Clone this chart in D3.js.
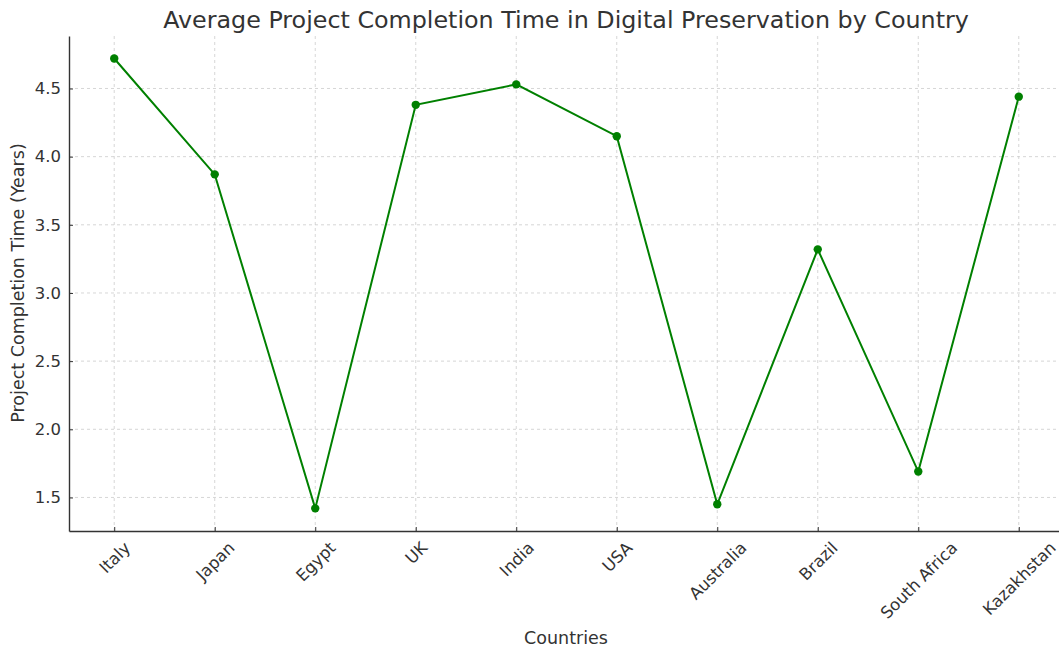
<!DOCTYPE html>
<html>
<head>
<meta charset="utf-8">
<script src="https://cdn.jsdelivr.net/npm/d3@7"></script>
<style>
  body { margin: 0; background: #fff; }
  svg text { font-family: "DejaVu Sans", sans-serif; }
  svg { display: block; }
</style>
</head>
<body>
<svg id="chart" width="1059" height="650"></svg>
<script>
// data
const countries = ["Italy", "Japan", "Egypt", "UK", "India", "USA", "Australia", "Brazil", "South Africa", "Kazakhstan"];
const completionYears = [4.72, 3.87, 1.42, 4.38, 4.53, 4.15, 1.45, 3.32, 1.69, 4.44];
const yTicks = [1.5, 2.0, 2.5, 3.0, 3.5, 4.0, 4.5];

const svg = d3.select("#chart");
const plotLeft = 69, plotRight = 1064, plotTop = 36, plotBottom = 531;
const textColor = "#333";
const tickFont = 16.5;

const xScale = d3.scaleLinear().domain([-0.45, countries.length - 1 + 0.45]).range([plotLeft, plotRight]);
const yScale = d3.scaleLinear().domain([1.254, 4.885]).range([plotBottom, plotTop]);

// grid
const grid = svg.append("g");
grid.selectAll(".vg").data(countries).enter().append("line")
    .attr("x1", (d, i) => xScale(i)).attr("x2", (d, i) => xScale(i))
    .attr("y1", plotTop).attr("y2", plotBottom)
    .attr("stroke", "#ccc").attr("stroke-width", 0.8).attr("stroke-dasharray", "3,3");
grid.selectAll(".hg").data(yTicks).enter().append("line")
    .attr("x1", plotLeft).attr("x2", plotRight)
    .attr("y1", d => yScale(d)).attr("y2", d => yScale(d))
    .attr("stroke", "#ccc").attr("stroke-width", 0.8).attr("stroke-dasharray", "3,3");

// axes
const xAxis = d3.axisBottom(xScale)
    .tickValues(d3.range(countries.length))
    .tickFormat(i => countries[i])
    .tickSizeInner(-4).tickSizeOuter(0);
const gx = svg.append("g").attr("transform", `translate(0,${plotBottom})`).call(xAxis);
gx.select(".domain").attr("stroke", "#333").attr("stroke-width", 1.4);
gx.selectAll(".tick line").attr("stroke", "#333");
// rotated labels, box centred under the tick like matplotlib's ha="center"
gx.selectAll(".tick text")
    .attr("fill", textColor).attr("font-size", tickFont)
    .attr("text-anchor", "middle")
    .attr("dy", "0.35em")
    .attr("y", 0).attr("x", 0)
    .attr("transform", function() {
        const len = this.getComputedTextLength();
        const half = (len + tickFont) / (2 * Math.SQRT2);
        return `translate(0,${8 + half}) rotate(-45)`;
    });

const yAxis = d3.axisLeft(yScale)
    .tickValues(yTicks)
    .tickFormat(d3.format(".1f"))
    .tickSizeInner(-4).tickSizeOuter(0).tickPadding(8);
const gy = svg.append("g").attr("transform", `translate(${plotLeft},0)`).call(yAxis);
gy.select(".domain").attr("stroke", "#333").attr("stroke-width", 1.4);
gy.selectAll(".tick line").attr("stroke", "#333");
gy.selectAll(".tick text").attr("fill", textColor).attr("font-size", tickFont);

// line + markers
const line = d3.line().x((d, i) => xScale(i)).y(d => yScale(d));
svg.append("path").datum(completionYears)
    .attr("d", line)
    .attr("fill", "none")
    .attr("stroke", "green")
    .attr("stroke-width", 2);
svg.selectAll(".pt").data(completionYears).enter().append("circle")
    .attr("cx", (d, i) => xScale(i))
    .attr("cy", d => yScale(d))
    .attr("r", 4.2)
    .attr("fill", "green");

// labels
svg.append("text")
    .attr("x", 566).attr("y", 28)
    .attr("text-anchor", "middle")
    .attr("font-size", 23.8).attr("fill", textColor)
    .text("Average Project Completion Time in Digital Preservation by Country");
svg.append("text")
    .attr("x", 566).attr("y", 644)
    .attr("text-anchor", "middle")
    .attr("font-size", 17.5).attr("fill", textColor)
    .text("Countries");
svg.append("text")
    .attr("transform", "translate(24,283) rotate(-90)")
    .attr("text-anchor", "middle")
    .attr("font-size", 17.5).attr("fill", textColor)
    .text("Project Completion Time (Years)");
</script>
</body>
</html>
